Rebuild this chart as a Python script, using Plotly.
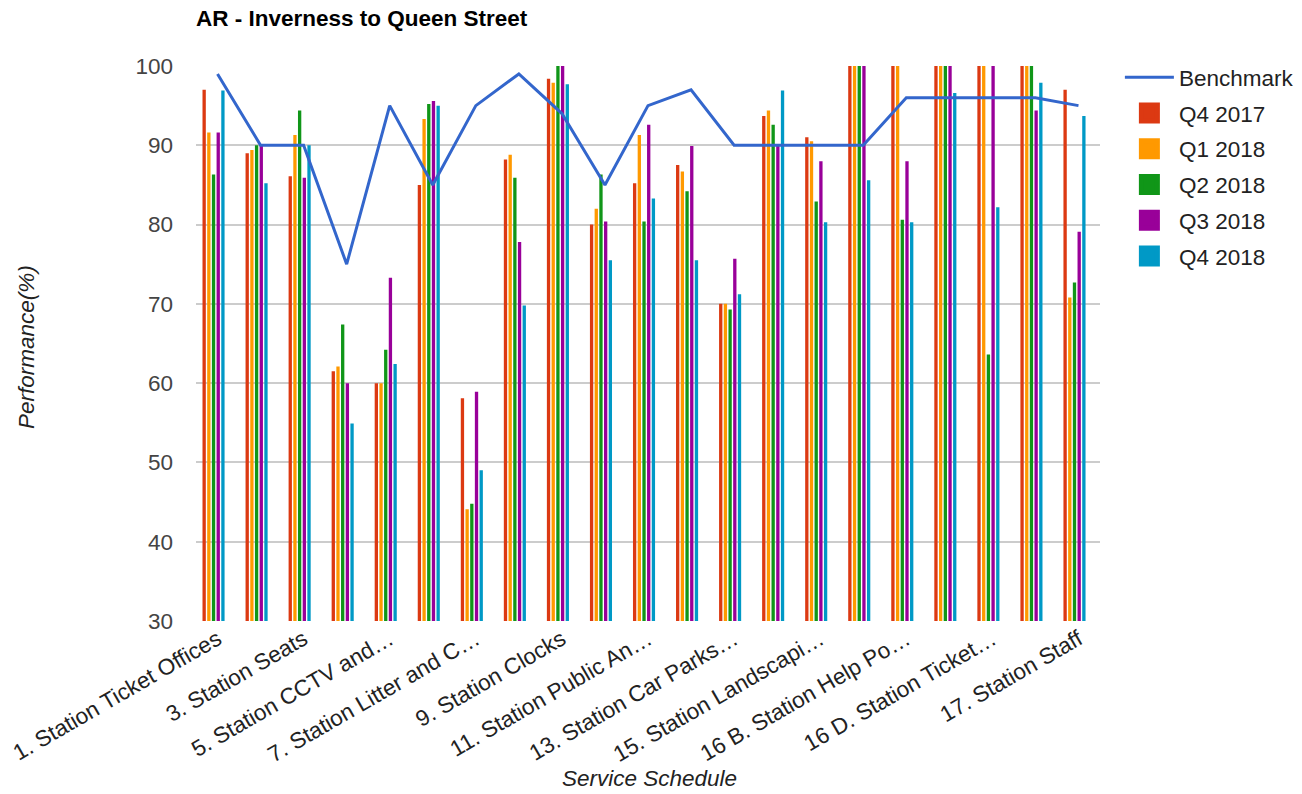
import plotly.graph_objects as go

# Service schedule categories (every other one is labelled on the axis)
categories = [
    "1. Station Ticket Offices",
    "2. Station Ticket Machines",
    "3. Station Seats",
    "4. Station Waiting Rooms",
    "5. Station CCTV and Help Points",
    "6. Station Toilets",
    "7. Station Litter and Cleanliness",
    "8. Station Lighting",
    "9. Station Clocks",
    "10. Station Information Screens",
    "11. Station Public Announcements",
    "12. Station Signage",
    "13. Station Car Parks and Cycle Stands",
    "14. Station Shelters",
    "15. Station Landscaping",
    "16 A. Station Accessibility",
    "16 B. Station Help Points",
    "16 C. Station Induction Loops",
    "16 D. Station Ticket Counters",
    "16 E. Station Ramps",
    "17. Station Staff",
]

tick_labels = [
    "1. Station Ticket Offices",
    "3. Station Seats",
    "5. Station CCTV and\u2026",
    "7. Station Litter and C\u2026",
    "9. Station Clocks",
    "11. Station Public An\u2026",
    "13. Station Car Parks\u2026",
    "15. Station Landscapi\u2026",
    "16 B. Station Help Po\u2026",
    "16 D. Station Ticket\u2026",
    "17. Station Staff",
]

benchmark = [99, 90, 90, 75, 95, 85, 95, 99, 94, 85, 95, 97, 90, 90, 90, 90, 96, 96, 96, 96, 95]

q4_2017 = [97, 89, 86.1, 61.5, 60, 85, 58.1, 88.2, 98.4, 80, 85.2, 87.5, 70, 93.7, 91, 100, 100, 100, 100, 100, 97]
q1_2018 = [91.6, 89.4, 91.3, 62.1, 60, 93.3, 44.1, 88.8, 97.9, 82, 91.3, 86.7, 70, 94.4, 90.5, 100, 100, 100, 100, 100, 70.8]
q2_2018 = [86.3, 90, 94.4, 67.4, 64.2, 95.2, 44.8, 85.9, 100, 86.3, 80.4, 84.2, 69.3, 92.6, 82.9, 100, 80.6, 100, 63.6, 100, 72.7]
q3_2018 = [91.6, 90, 85.9, 60, 73.3, 95.6, 58.9, 77.8, 100, 80.4, 92.6, 89.9, 75.7, 90, 88, 100, 88, 100, 100, 94.4, 79.1]
q4_2018 = [96.9, 85.2, 90, 54.9, 62.4, 95, 49, 69.8, 97.7, 75.5, 83.3, 75.5, 71.2, 96.9, 80.3, 85.6, 80.3, 96.6, 82.2, 97.9, 93.7]

series = [
    ("Q4 2017", q4_2017, "#dc3912"),
    ("Q1 2018", q1_2018, "#ff9900"),
    ("Q2 2018", q2_2018, "#109618"),
    ("Q3 2018", q3_2018, "#990099"),
    ("Q4 2018", q4_2018, "#0099c6"),
]

FONT = "Liberation Sans, Arial, sans-serif"
FS = 22.5
BAR_W = 0.077      # bar width in category units
BAR_STEP = 0.109   # distance between neighbouring bars in a group
FIRST_OFF = -0.349 # left edge of the first bar relative to category centre

fig = go.Figure()

for i, (name, vals, color) in enumerate(series):
    fig.add_trace(go.Bar(
        x=categories, y=vals, name=name,
        marker=dict(color=color, line=dict(width=0)),
        width=BAR_W, offset=FIRST_OFF + i * BAR_STEP,
        legendgroup=name, showlegend=False,
    ))
    # legend entry with a larger square swatch than the default bar key
    fig.add_trace(go.Scatter(
        x=[None], y=[None], name=name, mode="markers",
        marker=dict(symbol="square", size=16, color=color,
                    line=dict(color=color, width=5)),
        legendrank=2 + i, legendgroup=name, showlegend=True,
        hoverinfo="skip",
    ))

fig.add_trace(go.Scatter(
    x=categories, y=benchmark, name="Benchmark", mode="lines",
    line=dict(color="#3366cc", width=3),
    legendrank=1, legendgroup="Benchmark",
))

fig.update_layout(
    width=1302, height=794,
    margin=dict(l=196, r=202, t=66, b=173, autoexpand=False),
    paper_bgcolor="white", plot_bgcolor="white",
    font=dict(family=FONT, size=FS, color="#444"),
    title=dict(
        text="<b>AR - Inverness to Queen Street</b>",
        font=dict(family=FONT, size=FS, color="#000"),
        x=196 / 1302, xanchor="left", xref="container",
        y=1 - 18 / 794, yanchor="middle", yref="container",
    ),
    barmode="group",
    showlegend=True,
    legend=dict(
        x=1.022, xanchor="left", y=1.018, yanchor="top",
        font=dict(family=FONT, size=FS, color="#222"),
        bgcolor="rgba(0,0,0,0)",
        traceorder="grouped", tracegroupgap=3.5,
        itemwidth=49, itemsizing="trace",
    ),
    xaxis=dict(
        type="category",
        range=[-0.5, len(categories) - 0.5],
        tickmode="array",
        tickvals=categories[::2],
        ticktext=tick_labels,
        tickangle=-30,
        tickfont=dict(family=FONT, size=FS, color="#222"),
        showgrid=False, zeroline=False, showline=False, ticks="",
    ),
    yaxis=dict(
        range=[30, 100],
        tickmode="array",
        tickvals=[30, 40, 50, 60, 70, 80, 90, 100],
        tickfont=dict(family=FONT, size=FS, color="#444"),
        showgrid=True, gridcolor="#cccccc", gridwidth=2,
        zeroline=False, showline=False, ticks="",
        ticklabelstandoff=22,
    ),
    annotations=[
        dict(text="<i>Performance(%)</i>", xref="paper", yref="paper",
             x=(27 - 196) / 904, y=(621 - 347) / 555, textangle=-90,
             showarrow=False,
             font=dict(family=FONT, size=FS, color="#222"),
             xanchor="center", yanchor="middle"),
        dict(text="<i>Service Schedule</i>", xref="paper", yref="paper",
             x=(649 - 196) / 904, y=(621 - 778) / 555, showarrow=False,
             font=dict(family=FONT, size=FS, color="#222"),
             xanchor="center", yanchor="middle"),
    ],
)

fig.write_html("out.html")
